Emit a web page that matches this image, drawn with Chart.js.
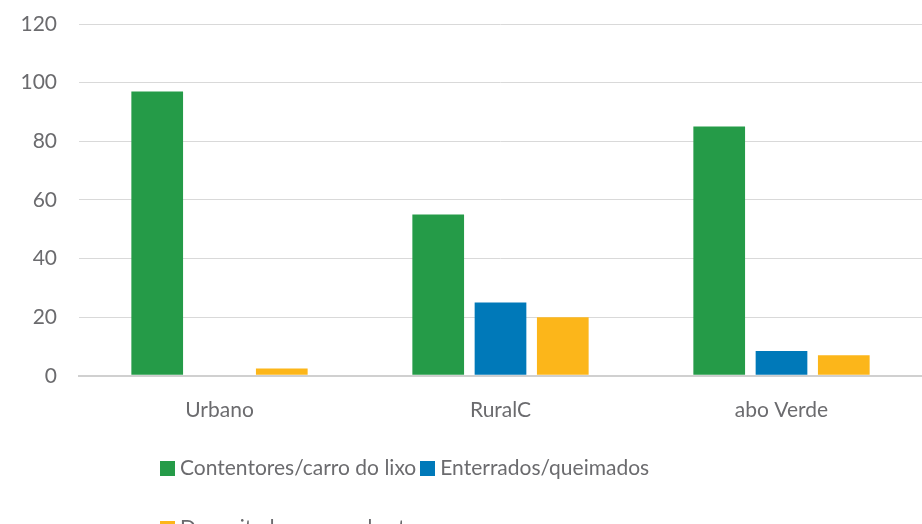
<!DOCTYPE html>
<html>
<head>
<meta charset="utf-8">
<script src="https://cdn.jsdelivr.net/npm/chart.js@4"></script>
<style>
    html, body { margin: 0; padding: 0; background: #fff; overflow: hidden; }
    #wrap { position: absolute; left: 0; top: 0; width: 922px; height: 452px; }
    #legend { position: absolute; left: 160px; top: 449px; width: 700px; font-family: Lato, sans-serif; font-size: 21px; color: #6b6b6e; }
    #legend .row { height: 60px; line-height: 35px; white-space: nowrap; }
    #legend .item { display: inline-block; margin-right: 4px; }
    #legend .box { display: inline-block; width: 15px; height: 15px; margin-right: 5px; vertical-align: -1px; }
</style>
</head>
<body>
<div id="wrap"><canvas id="chart"></canvas></div>
<div id="legend"></div>
<script>
const categories = ["Urbano", "RuralC", "abo Verde"];
const seriesNames = ["Contentores/carro do lixo", "Enterrados/queimados", "Depositadores ceu aberto"];
const contentores = [97, 55, 85];
const enterrados = [0, 25, 8.5];
const depositadores = [2.5, 20, 7];
const yTicks = [0, 20, 40, 60, 80, 100, 120];

const colors = ["#259b48", "#0079b9", "#fcb61a"];
const textColor = "#6b6b6e";

document.addEventListener("DOMContentLoaded", function () {
    const values = [contentores, enterrados, depositadores];

    const ctx = document.getElementById("chart").getContext("2d");
    new Chart(ctx, {
        type: "bar",
        data: {
            labels: categories,
            datasets: seriesNames.map((name, i) => ({
                label: name,
                data: values[i],
                backgroundColor: colors[i],
                borderWidth: 0,
                categoryPercentage: 0.665,
                barPercentage: 0.83
            }))
        },
        options: {
            responsive: true,
            maintainAspectRatio: false,
            animation: false,
            layout: { padding: { top: 24, right: 0, bottom: 7, left: 0 } },
            plugins: {
                legend: { display: false },
                tooltip: { enabled: false }
            },
            scales: {
                x: {
                    grid: { display: false, drawTicks: false },
                    border: { display: true, color: "#d0d0d0", width: 2 },
                    ticks: { color: textColor, font: { family: "Lato", size: 21 }, padding: 22 }
                },
                y: {
                    min: 0,
                    max: 120,
                    afterBuildTicks: function (scale) {
                        scale.ticks = yTicks.map(v => ({ value: v }));
                    },
                    afterFit: function (scale) {
                        scale.width = 79;
                        // sem folga extra em cima/baixo, o topo vem do layout.padding
                        scale.paddingTop = 0;
                        scale.paddingBottom = 0;
                    },
                    grid: {
                        color: c => c.tick && c.tick.value === 0 ? "#d0d0d0" : "#d9d9d9",
                        lineWidth: c => c.tick && c.tick.value === 0 ? 2 : 1,
                        drawTicks: false
                    },
                    border: { display: false },
                    ticks: { color: textColor, font: { family: "Lato", size: 21 }, padding: 22 }
                }
            }
        }
    });

    // legenda em html (duas linhas como no original)
    const legend = document.getElementById("legend");
    const rows = [[0, 1], [2]];
    legend.innerHTML = rows.map(r =>
        '<div class="row">' + r.map(i =>
            `<span class="item"><span class="box" style="background:${colors[i]}"></span>${seriesNames[i]}</span>`
        ).join("") + "</div>"
    ).join("");
});
</script>
</body>
</html>
